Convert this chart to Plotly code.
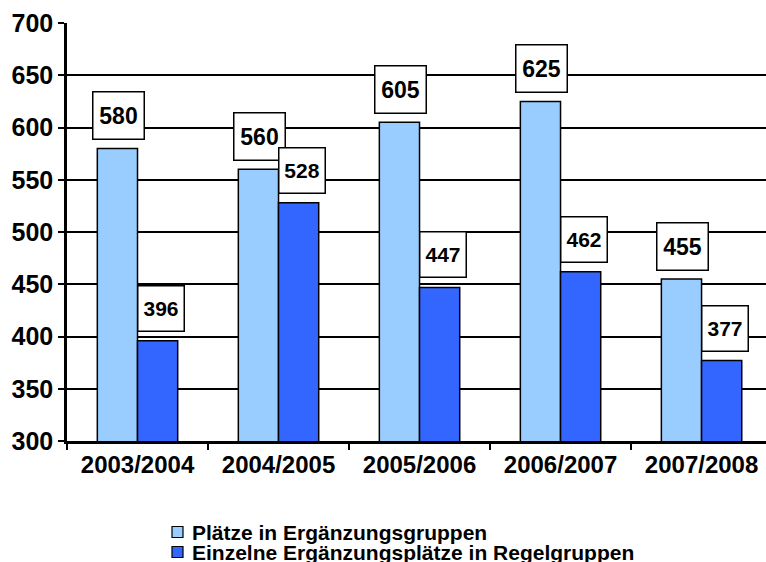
import plotly.graph_objects as go

categories = ["2003/2004", "2004/2005", "2005/2006", "2006/2007", "2007/2008"]
series_names = ["Plätze in Ergänzungsgruppen", "Einzelne Ergänzungsplätze in Regelgruppen"]
values_light = [580, 560, 605, 625, 455]
values_dark = [396, 528, 447, 462, 377]
y_ticks = [300, 350, 400, 450, 500, 550, 600, 650, 700]

COL_LIGHT = "#99CCFF"
COL_DARK = "#3366FF"
FONT = "Liberation Sans, Arial, sans-serif"

W, H = 766, 562
ML, MR, MT, MB = 67, 0, 23, 121
PW, PH = W - ML - MR, H - MT - MB


def px_x(px):
    return (px - ML) / PW


def px_y(py):
    return (H - MB - py) / PH


fig = go.Figure()
fig.add_trace(go.Bar(x=categories, y=values_light, name=series_names[0],
                     marker=dict(color=COL_LIGHT, line=dict(color="black", width=1.5)),
                     base=0))
fig.add_trace(go.Bar(x=categories, y=values_dark, name=series_names[1],
                     marker=dict(color=COL_DARK, line=dict(color="black", width=1.5)),
                     base=0))

annotations = []
for i, (a, b) in enumerate(zip(values_light, values_dark)):
    annotations.append(dict(
        x=i, y=a, xref="x", yref="y", text=f"<b>{a}</b>", showarrow=False,
        xanchor="center", yanchor="bottom", xshift=-19, yshift=8,
        font=dict(family=FONT, size=23, color="black"),
        bgcolor="white", bordercolor="black", borderwidth=1.5, borderpad=2,
        width=46, height=42))
    annotations.append(dict(
        x=i, y=b, xref="x", yref="y", text=f"<b>{b}</b>", showarrow=False,
        xanchor="center", yanchor="bottom", xshift=23, yshift=9,
        font=dict(family=FONT, size=21, color="black"),
        bgcolor="white", bordercolor="black", borderwidth=1.5, borderpad=2,
        width=41, height=40))

shapes = []
legend_rows = [(532, COL_LIGHT), (552, COL_DARK)]
for (cy, col), name in zip(legend_rows, series_names):
    shapes.append(dict(type="rect", xref="paper", yref="paper",
                       x0=px_x(172), x1=px_x(183), y0=px_y(cy + 5.5), y1=px_y(cy - 5.5),
                       fillcolor=col, line=dict(color="black", width=1.2)))
    annotations.append(dict(
        x=px_x(190), y=px_y(cy), xref="paper", yref="paper", text=f"<b>{name}</b>",
        showarrow=False, xanchor="left", yanchor="middle",
        font=dict(family=FONT, size=21, color="black")))

fig.update_layout(
    width=W, height=H,
    margin=dict(l=ML, r=MR, t=MT, b=MB, autoexpand=False),
    paper_bgcolor="white", plot_bgcolor="white",
    barmode="group", bargap=0.43, bargroupgap=0,
    showlegend=False,
    annotations=annotations, shapes=shapes,
    xaxis=dict(
        type="category", range=[-0.5, 4.457],
        showline=True, linecolor="black", linewidth=2.5,
        ticks="outside", tickson="boundaries", ticklen=6, tickwidth=1.5, tickcolor="black",
        tickfont=dict(family=FONT, size=24, color="black", weight="bold"),
        showgrid=False, zeroline=False,
    ),
    yaxis=dict(
        range=[300, 700], tickvals=y_ticks,
        showline=True, linecolor="black", linewidth=2.5,
        ticks="outside", ticklen=6, tickwidth=2, tickcolor="black",
        tickfont=dict(family=FONT, size=25, color="black", weight="bold"),
        showgrid=True, gridcolor="black", gridwidth=1.5,
        zeroline=False,
    ),
)

fig.write_html(
    "out.html",
    config={"displayModeBar": False},
    post_script="document.body.style.margin='0';document.body.style.padding='0';"
                "document.body.style.overflow='hidden';",
)
